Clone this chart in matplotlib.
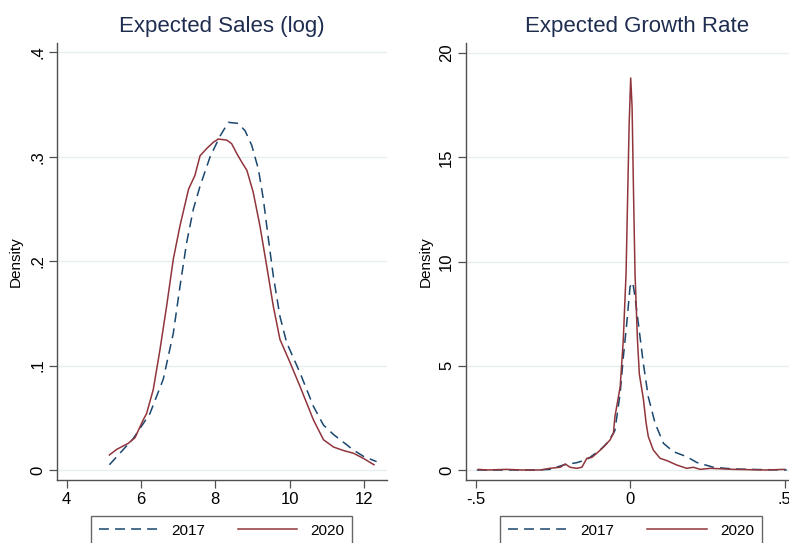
import matplotlib
matplotlib.use("Agg")
import matplotlib.pyplot as plt

plt.rcParams['font.family'] = ['Liberation Sans', 'DejaVu Sans']

# kernel density curves
sales_x_2017 = [5.15, 5.79, 6.24, 6.60, 6.87, 7.05, 7.23, 7.41, 7.59, 7.86, 8.13, 8.35,
                8.62, 8.80, 8.98, 9.16, 9.29, 9.43, 9.56, 9.74, 9.92, 10.28, 10.64,
                10.91, 11.18, 11.72, 11.99, 12.34]
sales_y_2017 = [0.005, 0.030, 0.054, 0.087, 0.131, 0.176, 0.218, 0.250, 0.272, 0.300,
                0.320, 0.333, 0.332, 0.325, 0.311, 0.288, 0.260, 0.221, 0.186, 0.147,
                0.122, 0.093, 0.061, 0.043, 0.034, 0.019, 0.013, 0.008]

sales_x_2020 = [5.15, 5.35, 5.66, 5.84, 6.06, 6.15, 6.33, 6.51, 6.69, 6.87, 7.05, 7.28,
                7.45, 7.59, 7.77, 7.95, 8.08, 8.31, 8.44, 8.58, 8.71, 8.85, 9.02, 9.20,
                9.38, 9.56, 9.74, 10.01, 10.28, 10.64, 10.91, 11.18, 11.45, 11.72,
                11.99, 12.27]
sales_y_2020 = [0.0144, 0.0198, 0.0256, 0.031, 0.048, 0.054, 0.077, 0.115, 0.157, 0.202,
                0.234, 0.269, 0.282, 0.301, 0.308, 0.314, 0.317, 0.316, 0.3125, 0.303,
                0.295, 0.287, 0.266, 0.234, 0.196, 0.157, 0.125, 0.103, 0.080, 0.048,
                0.029, 0.022, 0.0186, 0.016, 0.011, 0.005]

growth_x_2017 = [-0.496, -0.40, -0.30, -0.26, -0.216, -0.173, -0.14, -0.097, -0.075,
                 -0.054, -0.049, -0.032, -0.022, -0.011, 0.0, 0.0086, 0.016, 0.027,
                 0.043, 0.059, 0.081, 0.108, 0.14, 0.183, 0.216, 0.27, 0.334, 0.42,
                 0.507]
growth_y_2017 = [0.0, 0.0, 0.0, 0.03, 0.24, 0.35, 0.5, 0.96, 1.28, 1.76, 1.9, 3.7, 5.4,
                 7.0, 8.8, 9.0, 8.3, 7.0, 5.1, 3.5, 2.24, 1.28, 0.88, 0.64, 0.36, 0.13,
                 0.05, 0.02, 0.0]

growth_x_2020 = [-0.491, -0.464, -0.40, -0.35, -0.29, -0.26, -0.226, -0.21, -0.194,
                 -0.173, -0.156, -0.14, -0.124, -0.108, -0.086, -0.065, -0.054,
                 -0.049, -0.032, -0.022, -0.013, -0.0075, -0.003, 0.002, 0.0065,
                 0.011, 0.016, 0.024, 0.030, 0.043, 0.052, 0.059, 0.075, 0.097, 0.119,
                 0.151, 0.183, 0.205, 0.227, 0.26, 0.334, 0.44, 0.50]
growth_y_2020 = [0.03, 0.0, 0.03, 0.0, 0.0, 0.08, 0.13, 0.29, 0.13, 0.08, 0.13, 0.56,
                 0.6, 0.8, 1.1, 1.44, 1.76, 2.56, 4.0, 6.24, 9.44, 13.4, 16.6, 18.8,
                 17.4, 13.4, 9.4, 6.2, 4.6, 3.4, 2.24, 1.6, 0.96, 0.56, 0.45, 0.24,
                 0.08, 0.13, 0.03, 0.08, 0.03, 0.0, 0.03]

panels = [
    dict(title='Expected Sales (log)', x17=sales_x_2017, y17=sales_y_2017,
         x20=sales_x_2020, y20=sales_y_2020,
         xticks=[4, 6, 8, 10, 12], xlabels=['4', '6', '8', '10', '12'],
         yticks=[0, 0.1, 0.2, 0.3, 0.4], ylabels=['0', '.1', '.2', '.3', '.4'],
         xlim=(3.74, 12.62), ylim=(-0.0096, 0.409),
         pos=[57 / 789, 1 - 480 / 543, 330 / 789, 437 / 543], legx=221.5 / 789),
    dict(title='Expected Growth Rate', x17=growth_x_2017, y17=growth_y_2017,
         x20=growth_x_2020, y20=growth_y_2020,
         xticks=[-0.5, 0, 0.5], xlabels=['-.5', '0', '.5'],
         yticks=[0, 5, 10, 15, 20], ylabels=['0', '5', '10', '15', '20'],
         xlim=(-0.531, 0.579), ylim=(-0.48, 20.48),
         pos=[466 / 789, 1 - 480 / 543, 343 / 789, 437 / 543], legx=631 / 789),
]

navy = '#1a476f'
maroon = '#90353b'
axis_col = '#505050'

fig = plt.figure(figsize=(7.89, 5.43), dpi=100)

for p in panels:
    ax = fig.add_axes(p['pos'])
    ax.plot(p['x17'], p['y17'], color=navy, lw=1.1, linestyle=(0, (6.5, 4)), label='2017')
    ax.plot(p['x20'], p['y20'], color=maroon, lw=1.1, label='2020')
    ax.set_xlim(*p['xlim'])
    ax.set_ylim(*p['ylim'])
    ax.set_xticks(p['xticks'])
    ax.set_xticklabels(p['xlabels'])
    ax.set_yticks(p['yticks'])
    ax.set_yticklabels(p['ylabels'], rotation=90, va='center')
    ax.yaxis.grid(True, color='#e6eeee', lw=1)
    ax.set_axisbelow(True)
    for s in ['top', 'right']:
        ax.spines[s].set_visible(False)
    for s in ['left', 'bottom']:
        ax.spines[s].set_color(axis_col)
        ax.spines[s].set_linewidth(1)
    ax.tick_params(direction='out', length=5.5, width=0.9, color=axis_col,
                   labelsize=12, pad=3)
    ax.set_ylabel('Density', fontsize=11, labelpad=5)
    ax.set_title(p['title'], fontsize=16, color='#1e2d50', pad=8)
    leg = ax.legend(loc='upper center', bbox_to_anchor=(p['legx'], 1 - 516 / 543),
                    bbox_transform=fig.transFigure, ncol=2, fontsize=11,
                    frameon=True, fancybox=False, handlelength=3.9,
                    handletextpad=0.85, columnspacing=2.15, borderpad=0.5,
                    borderaxespad=0)
    leg.get_frame().set_edgecolor('#404040')
    leg.get_frame().set_linewidth(1)

fig.savefig('out.png', dpi=100)
